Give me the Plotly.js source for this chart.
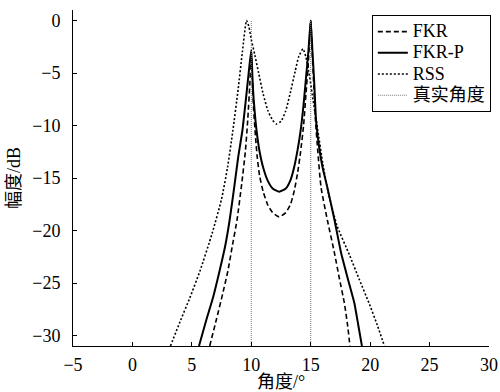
<!DOCTYPE html>
<html>
<head>
<meta charset="utf-8">
<script src="https://cdn.plot.ly/plotly-3.0.1.min.js"></script>
<style>body{margin:0;padding:0;background:#fff}#chart{width:500px;height:392px}</style>
</head>
<body>
<div id="chart"></div>
<script>
// FKR (dashed)
const fkrX = [6.5, 7.06, 7.6, 8.04, 8.4, 8.8, 9.2, 9.5, 9.7, 9.88, 10.0,
  10.1, 10.2, 10.35, 10.5, 10.7, 11.0, 11.4, 11.8, 12.35, 12.9, 13.3, 13.6, 13.9, 14.15, 14.4, 14.6, 14.8, 15.0,
  15.12, 15.25, 15.4, 15.6, 15.87, 16.4, 16.99, 17.4, 17.83, 18.1, 18.3];
const fkrY = [-31, -28.5, -26, -23.8, -21.5, -19, -15.5, -12.5, -9.5, -6, -3.0,
  -6, -8.5, -11, -13, -14.8, -16.3, -17.6, -18.3, -18.7, -18.3, -17.5, -16.3, -14.5, -12.5, -10, -7, -4, 0,
  -3, -6, -9.5, -12.5, -15.9, -19, -22.1, -24.5, -26.9, -29, -31];

// FKR-P (solid)
const fkrpX = [5.6, 6.22, 6.8, 7.34, 7.8, 8.18, 8.55, 8.9, 9.25, 9.5, 9.78, 10.0,
  10.1, 10.2, 10.35, 10.5, 10.7, 11.0, 11.4, 11.8, 12.35, 12.9, 13.3, 13.6, 13.9, 14.15, 14.4, 14.6, 14.8, 15.0,
  15.15, 15.3, 15.45, 15.7, 16.0, 16.4, 17.0, 17.55, 18.1, 18.67, 19.0, 19.31];
const fkrpY = [-31, -28.5, -26.3, -23.8, -21.5, -19, -16, -13, -10.5, -8, -5, -2.8,
  -5.5, -7.5, -9.5, -11, -12.5, -14, -15.3, -16.0, -16.3, -16.0, -15.2, -14, -12.3, -10.5, -8, -5.5, -3, 0,
  -3, -6, -9.5, -12, -14, -15.9, -19, -22.1, -24.5, -26.9, -29, -31];

// RSS (dotted)
const rssX = [3.2, 4.0, 4.8, 5.7, 6.7, 7.5, 8.0, 8.45, 8.9, 9.25, 9.6,
  9.8, 10.0, 10.3, 10.6, 11.0, 11.4, 11.8, 12.1, 12.5, 12.9, 13.3, 13.7, 14.0, 14.35,
  14.6, 14.9, 15.2, 15.6, 16.0, 16.4, 17.2, 18.25, 19.1, 19.9, 20.6, 21.2];
const rssY = [-31, -28.7, -26.5, -23.8, -20.3, -17, -14, -10.5, -6.5, -3, 0,
  -0.6, -1.8, -3.3, -4.9, -7, -8.6, -9.5, -9.85, -9.6, -8.6, -6.8, -4.8, -3.4, -2.7,
  -3.5, -5.3, -7.6, -10.5, -13.5, -16, -19.5, -22.3, -24.7, -26.9, -29, -31];

// true angles
const trueAngles = [10, 15];
const trueTop = 0;
const trueBottom = -31;

const seriesNames = ['FKR', 'FKR-P', 'RSS', '真实角度'];
const xTicks = [-5, 0, 5, 10, 15, 20, 25, 30];
const yTicks = [0, -5, -10, -15, -20, -25, -30];

const fontFam = "Times New Roman, Liberation Serif, Noto Sans CJK SC, serif";
const big = s => '<span style="font-size:18px">' + s + '</span>';

const traces = [
  {x: fkrX, y: fkrY, name: big(seriesNames[0]), mode: 'lines',
   line: {color: '#000', width: 1.6, dash: '5px,3px', shape: 'spline', smoothing: 0.5}},
  {x: fkrpX, y: fkrpY, name: big(seriesNames[1]), mode: 'lines',
   line: {color: '#000', width: 2, shape: 'spline', smoothing: 0.5}},
  {x: rssX, y: rssY, name: big(seriesNames[2]), mode: 'lines',
   line: {color: '#000', width: 1.6, dash: '2px,2px', shape: 'spline', smoothing: 0.5}},
];
trueAngles.forEach((a, i) => {
  traces.push({x: [a, a], y: [trueBottom, trueTop], name: big(seriesNames[3]), mode: 'lines',
    showlegend: i === 0, legendgroup: 'true',
    line: {color: '#777', width: 1, dash: '1px,1px'}});
});

const fmt = v => v < 0 ? '\u2212' + Math.abs(v) : String(v);

const layout = {
  width: 500, height: 392,
  margin: {l: 73, r: 10, t: 10, b: 46},
  paper_bgcolor: '#fff', plot_bgcolor: '#fff',
  font: {family: fontFam, size: 18, color: '#000'},
  showlegend: true,
  legend: {x: 1.002, xanchor: 'right', y: 0.985, yanchor: 'top',
    bordercolor: '#000', borderwidth: 1, bgcolor: '#fff',
    font: {family: fontFam, size: 14, color: '#000'},
    tracegroupgap: 0, itemwidth: 30},
  xaxis: {range: [-5, 30], tickvals: xTicks, ticktext: xTicks.map(fmt),
    showgrid: false, zeroline: false, showline: true, linecolor: '#000', linewidth: 1,
    ticks: 'inside', ticklen: 4, tickcolor: '#000', ticklabelstandoff: 2,
    tickfont: {family: fontFam, size: 18},
    title: {text: '角度/°', font: {family: fontFam, size: 18}, standoff: 1}},
  yaxis: {range: [-31, 1], tickvals: yTicks, ticktext: yTicks.map(fmt),
    showgrid: false, zeroline: false, showline: true, linecolor: '#000', linewidth: 1,
    ticks: 'inside', ticklen: 4, tickcolor: '#000', ticklabelstandoff: 8,
    tickfont: {family: fontFam, size: 18},
    title: {text: '幅度/dB', font: {family: fontFam, size: 18}, standoff: 6}}
};

Plotly.newPlot('chart', traces, layout, {displayModeBar: false, staticPlot: true});
</script>
</body>
</html>
